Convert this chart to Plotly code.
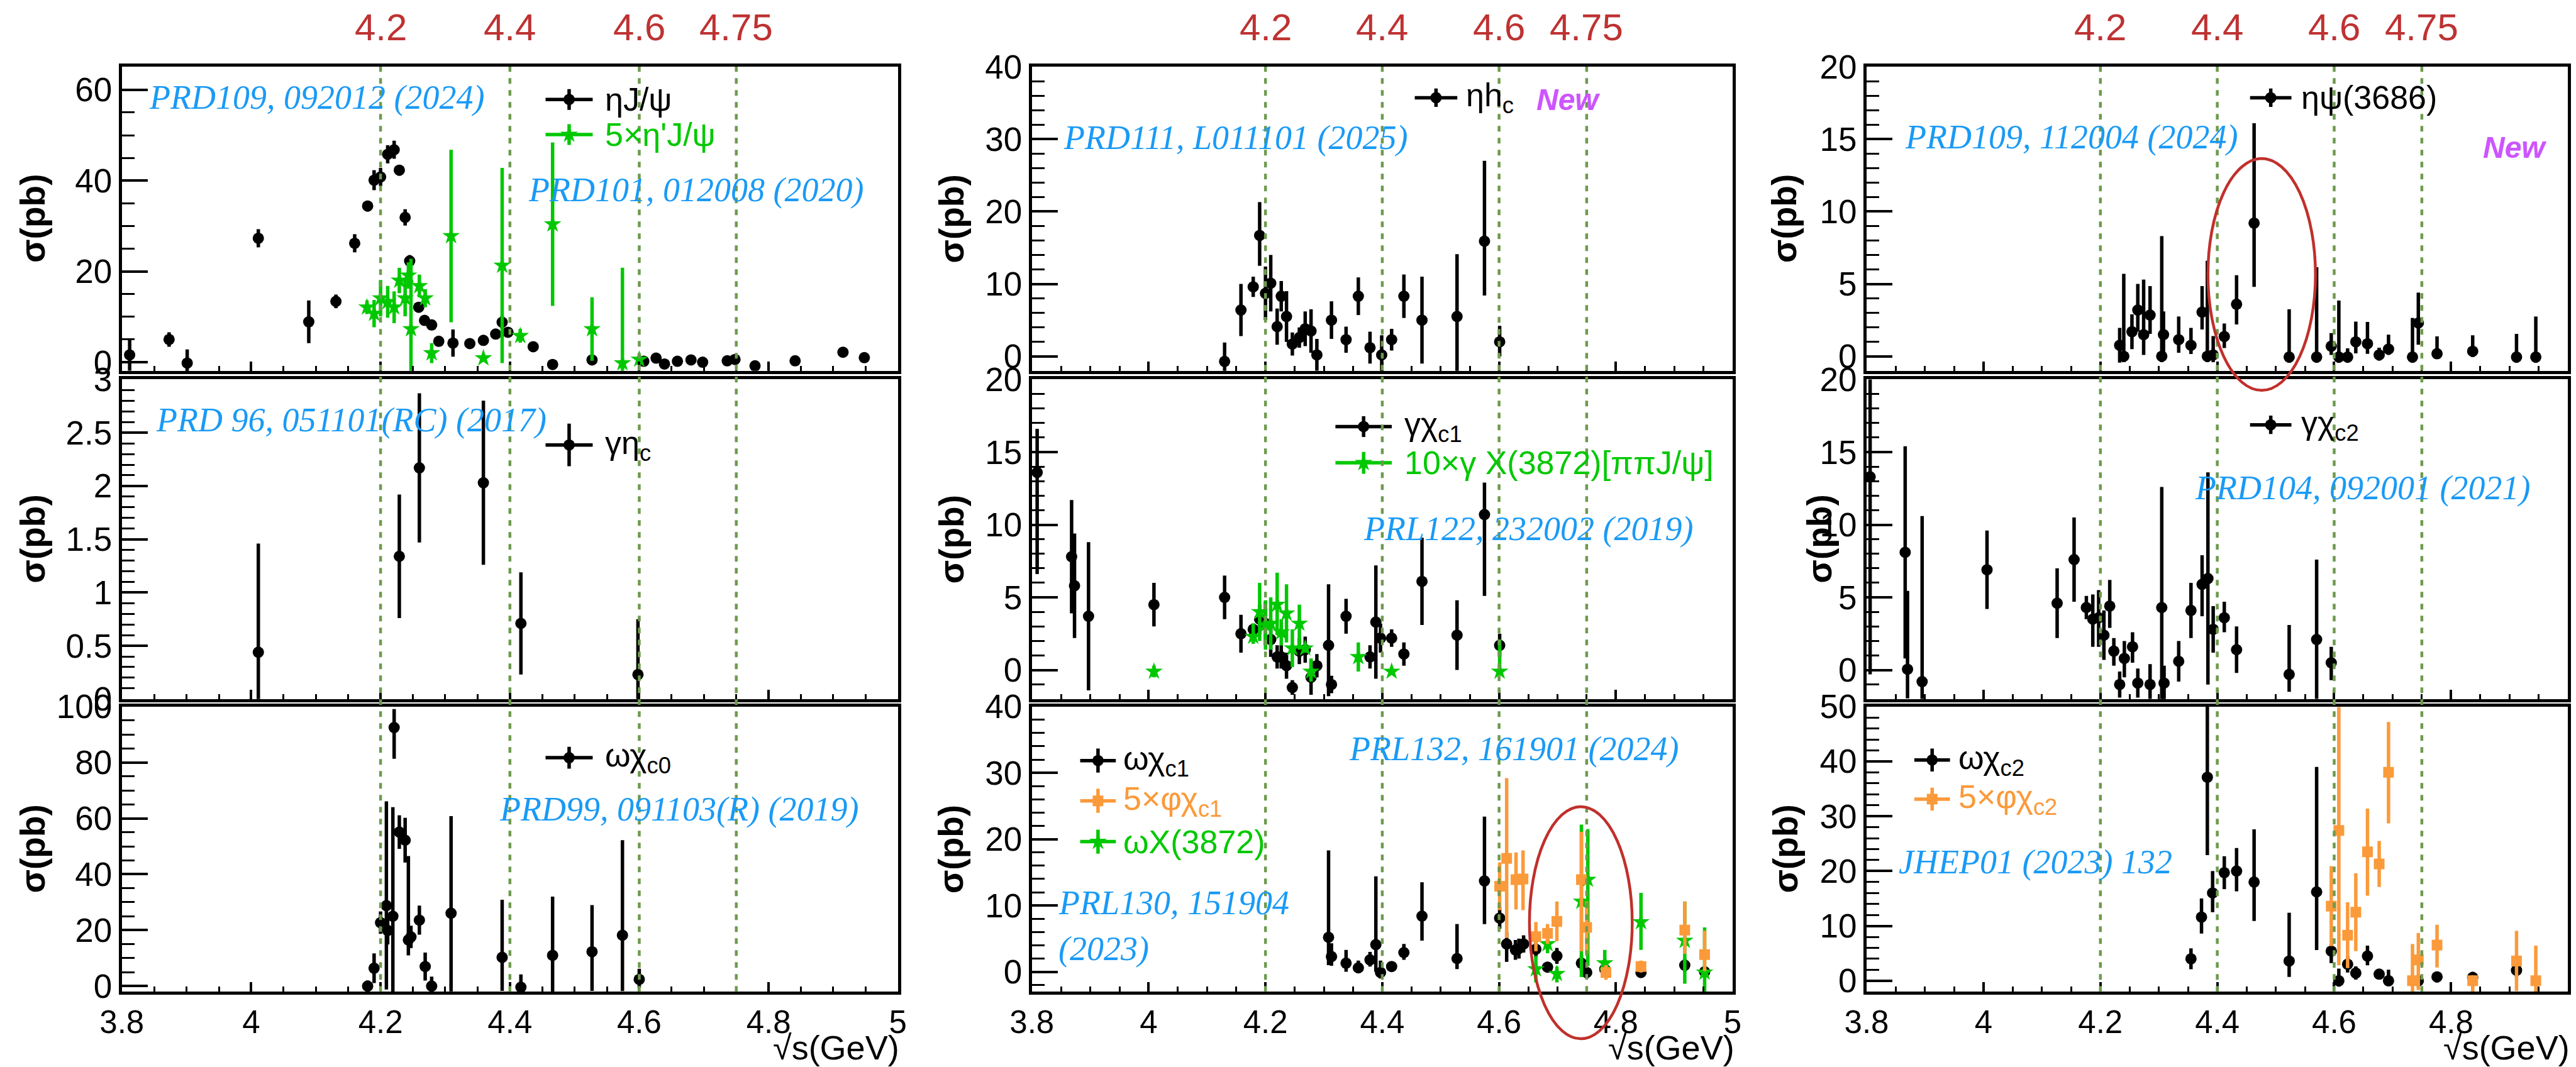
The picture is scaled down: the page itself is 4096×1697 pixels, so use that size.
import plotly.graph_objects as go

# ================================================================ DATA
# --- top row ---------------------------------------------------------
etaJpsi_x = [3.812, 3.873, 3.901, 4.011, 4.089, 4.131, 4.160, 4.180, 4.190, 4.200,
             4.211, 4.221, 4.229, 4.238, 4.245, 4.259, 4.268, 4.279, 4.290, 4.312,
             4.338, 4.359, 4.378, 4.388, 4.397, 4.436, 4.466, 4.527, 4.607, 4.626,
             4.639, 4.659, 4.680, 4.698, 4.736, 4.748, 4.779, 4.841, 4.915, 4.948]
etaJpsi_y = [1.6, 5.0, -0.2, 27.3, 8.9, 13.4, 26.2, 34.4, 40.1, 40.8,
             45.8, 46.8, 42.3, 31.9, 22.3, 12.1, 9.2, 8.2, 4.6, 4.2,
             4.1, 4.8, 6.2, 8.8, 6.6, 3.4, -0.5, 0.5, 0.2, 0.9,
             -0.4, 0.2, 0.5, 0.0, 0.3, 0.6, -0.8, 0.3, 2.2, 1.0]
etaJpsi_err = [3.5, 1.6, 3.0, 2.0, 4.7, 1.5, 2.0, 1.2, 2.2, 2.0,
               2.0, 2.0, 1.2, 1.8, 1.3, 1.0, 0.8, 1.0, 0.8, 3.0,
               0.9, 0.9, 0.8, 1.5, 0.8, 0.8, 0.8, 1.0, 0.8, 0.8,
               0.8, 0.8, 0.8, 0.8, 0.8, 0.8, 0.8, 0.8, 0.8, 0.8]

etapJpsi_x = [4.179, 4.190, 4.200, 4.211, 4.221, 4.229, 4.238, 4.243, 4.247, 4.260,
              4.269, 4.279, 4.309, 4.359, 4.388, 4.416, 4.466, 4.527, 4.574, 4.600]
etapJpsi_y = [12.1, 10.7, 14.1, 13.3, 12.1, 18.0, 14.1, 19.1, 7.3, 16.8,
              14.1, 2.0, 27.8, 0.9, 21.3, 5.8, 30.4, 7.3, -0.2, 0.6]
etapJpsi_ep = [1.5, 3.0, 4.0, 3.5, 3.5, 2.8, 4.0, 2.9, 15.5, 2.5,
               2.0, 2.2, 19.0, 0.8, 21.5, 1.5, 18.0, 7.0, 21.0, 1.2]
etapJpsi_em = [1.5, 3.0, 4.0, 3.5, 3.5, 2.8, 4.0, 2.9, 9.5, 2.5,
               2.0, 2.2, 19.0, 0.8, 21.5, 1.5, 18.0, 7.0, 2.0, 1.2]

etahc_x = [4.130, 4.158, 4.179, 4.190, 4.200, 4.209, 4.220, 4.227, 4.236, 4.246,
           4.258, 4.268, 4.278, 4.288, 4.313, 4.338, 4.359, 4.379, 4.399, 4.416,
           4.437, 4.468, 4.528, 4.575, 4.601]
etahc_y = [-0.7, 6.4, 9.6, 16.7, 8.7, 10.1, 4.1, 8.3, 5.5, 1.7,
           2.6, 3.8, 3.5, 0.2, 5.0, 2.3, 8.3, 1.2, 0.2, 2.3,
           8.3, 5.0, 5.5, 15.9, 2.0]
etahc_ep = [2.6, 3.6, 1.4, 4.6, 3.7, 3.9, 2.5, 2.1, 3.5, 1.6,
            1.4, 2.4, 3.0, 2.2, 2.6, 1.8, 2.6, 2.2, 2.7, 1.5,
            3.0, 6.0, 8.6, 11.1, 2.2]
etahc_em = [2.6, 3.6, 1.4, 4.2, 3.7, 3.9, 2.5, 2.1, 3.5, 1.6,
            1.4, 2.4, 3.0, 2.2, 2.6, 1.8, 2.6, 2.2, 2.7, 1.5,
            3.0, 6.0, 8.6, 7.5, 2.0]

etapsi_x = [4.233, 4.240, 4.254, 4.264, 4.274, 4.285, 4.305, 4.308, 4.334, 4.355,
            4.374, 4.383, 4.393, 4.412, 4.433, 4.463, 4.523, 4.570, 4.595, 4.608,
            4.623, 4.637, 4.657, 4.677, 4.693, 4.734, 4.744, 4.776, 4.837, 4.912,
            4.945]
etapsi_y = [0.76, 0.0, 1.7, 3.2, 1.5, 2.85, 0.0, 1.5, 1.15, 0.76,
            3.05, 0.0, 0.1, 1.37, 3.6, 9.2, -0.05, -0.05, 0.7, -0.05,
            -0.05, 1.0, 0.87, 0.1, 0.5, -0.05, 2.3, 0.18, 0.35, -0.05,
            -0.05]
etapsi_ep = [1.2, 5.7, 1.2, 1.8, 3.8, 2.0, 8.3, 1.6, 1.6, 1.2,
             1.8, 6.6, 1.3, 0.9, 2.0, 6.9, 3.3, 6.2, 0.9, 3.9,
             0.6, 1.4, 1.5, 0.5, 1.0, 2.7, 2.1, 1.2, 1.1, 1.6,
             2.8]
etapsi_em = [1.2, 0.4, 1.2, 1.5, 1.4, 1.3, 0.4, 1.4, 0.9, 0.6,
             1.2, 0.4, 0.5, 0.8, 1.4, 4.4, 0.4, 0.4, 0.6, 0.4,
             0.4, 0.8, 0.7, 0.4, 0.4, 0.4, 1.5, 0.3, 0.4, 0.4,
             0.4]

# --- middle row ------------------------------------------------------
getac_x = [4.011, 4.229, 4.260, 4.359, 4.417, 4.598]
getac_y = [0.44, 1.34, 2.17, 2.03, 0.71, 0.23]
getac_err = [1.02, 0.58, 0.70, 0.77, 0.48, 0.52]

gchic1_x = [3.809, 3.868, 3.873, 3.897, 4.009, 4.130, 4.158, 4.179, 4.190, 4.200,
            4.209, 4.220, 4.227, 4.236, 4.246, 4.258, 4.268, 4.278, 4.288, 4.308,
            4.313, 4.338, 4.379, 4.389, 4.397, 4.416, 4.437, 4.468, 4.528, 4.575,
            4.601]
gchic1_y = [13.6, 7.8, 5.8, 3.7, 4.5, 5.0, 2.5, 2.8, 3.5, 3.2,
            2.1, 0.9, 0.9, 0.3, -1.2, 1.3, 1.4, -0.5, 0.3, 1.7,
            -1.0, 3.7, 0.9, 3.3, 2.2, 2.2, 1.1, 6.1, 2.4, 10.7,
            1.7]
gchic1_ep = [3.0, 3.9, 3.6, 5.1, 1.5, 1.5, 1.3, 0.4, 1.0, 1.5,
             1.2, 0.8, 0.8, 0.9, 0.5, 0.9, 0.9, 1.2, 0.8, 4.2,
             0.6, 1.2, 0.8, 3.9, 1.0, 0.6, 0.8, 3.0, 2.4, 2.2,
             0.8]
gchic1_em = [7.0, 3.9, 3.6, 5.1, 1.5, 1.5, 1.3, 0.4, 1.0, 1.5,
             1.2, 0.8, 0.8, 0.9, 0.5, 0.9, 0.9, 1.2, 0.8, 3.5,
             0.6, 1.2, 0.8, 3.9, 1.0, 0.6, 0.8, 3.0, 2.4, 5.6,
             0.8]

gX3872_x = [4.009, 4.179, 4.190, 4.200, 4.209, 4.220, 4.227, 4.236, 4.246, 4.258,
            4.268, 4.278, 4.359, 4.416, 4.601]
gX3872_y = [-0.1, 2.3, 4.0, 3.1, 3.2, 4.5, 2.6, 3.9, 1.5, 3.2,
            1.5, -0.1, 0.9, -0.1, -0.1]
gX3872_ep = [0.4, 0.9, 2.0, 1.7, 1.8, 2.2, 0.9, 2.0, 1.3, 1.3,
             0.3, 0.9, 1.0, 0.3, 2.2]
gX3872_em = [0.4, 0.5, 2.0, 1.7, 1.8, 2.1, 0.9, 2.0, 1.3, 1.8,
             0.3, 0.7, 1.0, 0.2, 0.1]

gchic2_x = [3.806, 3.866, 3.870, 3.895, 4.006, 4.126, 4.155, 4.176, 4.187, 4.197,
            4.206, 4.216, 4.223, 4.233, 4.241, 4.255, 4.264, 4.285, 4.305, 4.309,
            4.334, 4.355, 4.374, 4.384, 4.393, 4.412, 4.433, 4.523, 4.570, 4.595]
gchic2_y = [13.3, 8.1, 0.05, -0.8, 6.9, 4.6, 7.6, 4.3, 3.5, 3.6,
            2.4, 4.4, 1.3, -1.0, 0.8, 1.6, -0.9, -1.0, 4.3, -0.9,
            0.6, 4.1, 5.9, 6.3, 2.8, 3.6, 1.4, -0.3, 2.1, 0.5]
gchic2_ep = [7.0, 7.3, 5.4, 11.4, 2.7, 2.4, 2.9, 0.8, 1.7, 1.9,
             1.7, 1.8, 0.9, 0.9, 1.2, 1.0, 1.0, 1.4, 8.3, 1.2,
             1.4, 1.9, 2.0, 7.3, 1.6, 1.1, 1.6, 3.4, 5.5, 1.1]
gchic2_em = [13.6, 7.3, 2.0, 1.2, 2.7, 2.4, 2.9, 0.8, 1.9, 2.0,
             1.7, 1.5, 1.0, 0.9, 1.3, 1.1, 1.0, 1.0, 8.3, 1.2,
             1.4, 1.9, 2.2, 7.3, 1.6, 1.0, 1.6, 1.2, 4.1, 1.2]

# --- bottom row ------------------------------------------------------
wchic0_x = [4.180, 4.190, 4.200, 4.209, 4.211, 4.219, 4.221, 4.229, 4.238, 4.243,
            4.247, 4.260, 4.269, 4.279, 4.309, 4.388, 4.417, 4.466, 4.527, 4.574,
            4.600]
wchic0_y = [0.0, 6.4, 22.7, 28.8, 19.9, 25.0, 92.5, 55.1, 52.2, 16.5,
            17.6, 23.6, 7.0, 0.0, 26.1, 10.3, -0.4, 11.0, 12.3, 18.2,
            2.4]
wchic0_ep = [2.0, 5.3, 4.0, 37.3, 5.0, 39.0, 6.6, 6.0, 8.0, 30.0,
             4.0, 5.2, 5.0, 3.4, 34.7, 20.6, 4.6, 21.0, 16.7, 34.0,
             3.8]
wchic0_em = [2.0, 5.3, 4.0, 30.0, 5.0, 27.0, 11.2, 6.0, 8.0, 5.5,
             4.0, 5.2, 5.0, 2.0, 28.0, 12.0, 2.0, 13.0, 14.0, 20.0,
             3.0]

wchic1_x = [4.308, 4.313, 4.338, 4.359, 4.379, 4.389, 4.397, 4.416, 4.437, 4.468,
            4.528, 4.575, 4.601, 4.613, 4.628, 4.634, 4.642, 4.663, 4.683, 4.699,
            4.741, 4.750, 4.781, 4.843, 4.918, 4.952]
wchic1_y = [5.2, 2.3, 1.3, 0.6, 1.8, 4.1, -0.1, 0.8, 2.9, 8.4,
            2.0, 13.7, 8.1, 4.2, 3.3, 3.5, 4.2, 3.4, 0.7, 2.4,
            1.3, -0.1, 0.4, -0.1, 1.0, 0.0]
wchic1_ep = [13.1, 2.0, 2.0, 1.1, 1.2, 10.3, 1.8, 0.7, 1.3, 5.1,
             5.2, 9.7, 1.7, 1.8, 1.5, 1.5, 1.3, 1.3, 0.8, 1.2,
             1.2, 0.9, 0.9, 0.8, 1.0, 0.8]
wchic1_em = [4.2, 1.4, 1.3, 0.8, 1.0, 4.1, 0.9, 0.7, 1.1, 3.7,
             1.6, 6.5, 1.6, 2.7, 1.5, 1.5, 1.3, 1.3, 0.8, 1.2,
             1.2, 0.9, 0.9, 0.8, 1.0, 0.8]

phichic1_x = [4.601, 4.613, 4.629, 4.641, 4.663, 4.683, 4.699, 4.741, 4.750, 4.783,
              4.843, 4.918, 4.952]
phichic1_y = [12.9, 17.1, 13.9, 14.0, 5.3, 5.8, 7.6, 13.9, 6.7, -0.1,
              0.8, 6.3, 2.6]
phichic1_ep = [3.6, 12.1, 4.1, 4.3, 2.2, 1.4, 3.0, 7.2, 3.9, 1.1,
               0.9, 4.3, 3.6]
phichic1_em = [3.6, 12.0, 4.5, 4.7, 2.2, 1.6, 3.0, 10.8, 4.0, 1.1,
               0.9, 3.6, 2.5]

wX3872_x = [4.663, 4.683, 4.699, 4.741, 4.752, 4.781, 4.843, 4.918, 4.952]
wX3872_y = [0.4, 4.2, -0.3, 10.6, 13.9, 1.3, 7.5, 4.7, -0.1]
wX3872_ep = [2.0, 1.1, 1.1, 11.6, 7.6, 2.0, 4.4, 5.9, 6.8]
wX3872_em = [2.0, 1.4, 1.3, 11.4, 13.0, 1.6, 4.2, 6.5, 3.0]

wchic2_x = [4.355, 4.373, 4.383, 4.392, 4.412, 4.433, 4.463, 4.523, 4.570, 4.595,
            4.608, 4.623, 4.637, 4.657, 4.677, 4.693, 4.744, 4.776, 4.837, 4.912]
wchic2_y = [4.0, 11.6, 37.1, 16.0, 19.7, 20.0, 18.0, 3.6, 16.2, 5.4,
            0.0, 3.0, 1.4, 4.5, 1.2, 0.0, 0.0, 0.7, 0.6, 1.9]
wchic2_ep = [1.9, 3.4, 13.0, 4.0, 3.0, 4.2, 9.6, 8.8, 22.8, 1.3,
             2.2, 1.5, 1.2, 1.9, 0.9, 2.0, 1.0, 1.0, 1.0, 1.2]
wchic2_em = [1.9, 3.0, 14.2, 3.5, 3.0, 3.7, 7.1, 2.9, 10.6, 2.2,
             1.1, 1.5, 1.2, 1.7, 0.9, 1.0, 1.0, 1.0, 1.0, 1.2]

phichic2_x = [4.595, 4.608, 4.623, 4.637, 4.657, 4.677, 4.693, 4.734, 4.744, 4.776,
              4.837, 4.912, 4.945]
phichic2_y = [13.6, 27.4, 8.3, 12.5, 23.5, 21.3, 38.0, 0.0, 3.8, 6.5,
              0.0, 3.6, 0.0]
phichic2_ep = [7.3, 22.5, 6.0, 7.1, 7.9, 4.2, 9.2, 6.7, 4.9, 3.7,
               1.0, 5.5, 6.4]
phichic2_em = [7.3, 24.6, 6.0, 7.1, 8.0, 4.2, 9.3, 2.0, 5.5, 4.1,
               2.0, 5.5, 2.0]

# reference energies (dashed lines / red labels)
marker_energies = [4.2, 4.4, 4.6, 4.75]
marker_labels = ["4.2", "4.4", "4.6", "4.75"]

# y-axis settings per panel: range, major step, minor step
y_ranges = {(0, 0): [-1.9, 65.1], (0, 1): [-2, 40], (0, 2): [-1, 20],
            (1, 0): [0, 3], (1, 1): [-2, 20], (1, 2): [-2, 20],
            (2, 0): [-2, 100], (2, 1): [-3, 40], (2, 2): [-2, 50]}
y_ticks = {(0, 0): (20, 5), (0, 1): (10, 2), (0, 2): (5, 1),
           (1, 0): (0.5, 0.1), (1, 1): (5, 1), (1, 2): (5, 1),
           (2, 0): (20, 5), (2, 1): (10, 2), (2, 2): (10, 2)}
x_range = [3.8, 5.0]

# ================================================================ GEOMETRY
W_REF, H_REF = 4481.0, 1856.0
COL_X = [(212, 1562), (1795, 3014), (3247, 4467)]
ROW_Y = [(116, 645), (660, 1216), (1229, 1725)]

BLACK = "black"
GREEN = "#00c800"
ORANGE = "#fb9a3a"
BLUE = "#1a9af5"
RED = "#be3232"
DASH = "#6e9a4e"
MAGENTA = "#cc55ff"

LW = 5
EB_T = 5.5
TICKFONT = 53


def px(X):
    return X / W_REF


def py(Y):
    return 1.0 - Y / H_REF


def axis_ids(r, c):
    n = r * 3 + c + 1
    if n == 1:
        return "x", "y", "xaxis", "yaxis"
    return f"x{n}", f"y{n}", f"xaxis{n}", f"yaxis{n}"


def data_to_ref(r, c, xd, yd):
    x0, x1 = COL_X[c]
    yt, yb = ROW_Y[r]
    yr = y_ranges[(r, c)]
    X = x0 + (xd - x_range[0]) / (x_range[1] - x_range[0]) * (x1 - x0)
    Y = yb - (yd - yr[0]) / (yr[1] - yr[0]) * (yb - yt)
    return X, Y


def ref_to_data(r, c, X, Y):
    x0, x1 = COL_X[c]
    yt, yb = ROW_Y[r]
    yr = y_ranges[(r, c)]
    xd = x_range[0] + (X - x0) / (x1 - x0) * (x_range[1] - x_range[0])
    yd = yr[0] + (yb - Y) / (yb - yt) * (yr[1] - yr[0])
    return xd, yd


def px_per_unit(r, c):
    x0, x1 = COL_X[c]
    yt, yb = ROW_Y[r]
    yr = y_ranges[(r, c)]
    return (x1 - x0) / (x_range[1] - x_range[0]), (yb - yt) / (yr[1] - yr[0])


fig = go.Figure()


def add_series(r, c, x, y, ep, em, color, symbol, size):
    xa, ya, _, _ = axis_ids(r, c)
    fig.add_trace(go.Scatter(
        x=x, y=y, mode="markers", xaxis=xa, yaxis=ya, showlegend=False,
        marker=dict(color=color, symbol=symbol, size=size, line=dict(width=0)),
        error_y=dict(type="data", symmetric=False, array=ep, arrayminus=em,
                     width=0, thickness=EB_T, color=color)))


CIRC, CS = "circle", 18
STAR, SS = "star", 21
SQ, QS = "square", 17

add_series(0, 0, etaJpsi_x, etaJpsi_y, etaJpsi_err, etaJpsi_err, BLACK, CIRC, CS)
add_series(0, 0, etapJpsi_x, etapJpsi_y, etapJpsi_ep, etapJpsi_em, GREEN, STAR, SS)
add_series(0, 1, etahc_x, etahc_y, etahc_ep, etahc_em, BLACK, CIRC, CS)
add_series(0, 2, etapsi_x, etapsi_y, etapsi_ep, etapsi_em, BLACK, CIRC, CS)
add_series(1, 0, getac_x, getac_y, getac_err, getac_err, BLACK, CIRC, CS)
add_series(1, 1, gchic1_x, gchic1_y, gchic1_ep, gchic1_em, BLACK, CIRC, CS)
add_series(1, 1, gX3872_x, gX3872_y, gX3872_ep, gX3872_em, GREEN, STAR, SS)
add_series(1, 2, gchic2_x, gchic2_y, gchic2_ep, gchic2_em, BLACK, CIRC, CS)
add_series(2, 0, wchic0_x, wchic0_y, wchic0_ep, wchic0_em, BLACK, CIRC, CS)
add_series(2, 1, wchic1_x, wchic1_y, wchic1_ep, wchic1_em, BLACK, CIRC, CS)
add_series(2, 1, wX3872_x, wX3872_y, wX3872_ep, wX3872_em, GREEN, STAR, SS)
add_series(2, 1, phichic1_x, phichic1_y, phichic1_ep, phichic1_em, ORANGE, SQ, QS)
add_series(2, 2, wchic2_x, wchic2_y, wchic2_ep, wchic2_em, BLACK, CIRC, CS)
add_series(2, 2, phichic2_x, phichic2_y, phichic2_ep, phichic2_em, ORANGE, SQ, QS)

annotations = []
shapes = []

# ---------------------------------------------------------------- legends
legend_entries = [
    # r, c, X, Y, half_h, half_v, color, symbol, size, text, textX
    (0, 0, 990, 173, 41, 18, BLACK, CIRC, CS, "ηJ/ψ", 1050),
    (0, 0, 990, 234, 41, 18, GREEN, STAR, SS, "5×η'J/ψ", 1050),
    (1, 0, 990, 774, 41, 37, BLACK, CIRC, CS, "γη<sub>c</sub>", 1050),
    (2, 0, 990, 1318, 41, 19, BLACK, CIRC, CS, "ωχ<sub>c0</sub>", 1050),
    (0, 1, 2498, 170, 37, 16, BLACK, CIRC, CS, "ηh<sub>c</sub>", 2548),
    (1, 1, 2372, 742, 49, 18, BLACK, CIRC, CS, "γχ<sub>c1</sub>", 2441),
    (1, 1, 2372, 805, 49, 19, GREEN, STAR, SS, "10×γ X(3872)[ππJ/ψ]", 2441),
    (2, 1, 1910, 1323, 31, 21, BLACK, CIRC, CS, "ωχ<sub>c1</sub>", 1952),
    (2, 1, 1910, 1393, 31, 21, ORANGE, SQ, QS, "5×φχ<sub>c1</sub>", 1952),
    (2, 1, 1910, 1464, 31, 21, GREEN, STAR, SS, "ωX(3872)", 1952),
    (0, 2, 3950, 170, 36, 16, BLACK, CIRC, CS, "ηψ(3686)", 4001),
    (1, 2, 3950, 739, 36, 16, BLACK, CIRC, CS, "γχ<sub>c2</sub>", 4001),
    (2, 2, 3361, 1322, 31, 20, BLACK, CIRC, CS, "ωχ<sub>c2</sub>", 3404),
    (2, 2, 3361, 1390, 31, 20, ORANGE, SQ, QS, "5×φχ<sub>c2</sub>", 3404),
]
for (r, c, X, Y, hh, hv, col, sym, sz, txt, tX) in legend_entries:
    xa, ya, _, _ = axis_ids(r, c)
    xd, yd = ref_to_data(r, c, X, Y)
    kx, ky = px_per_unit(r, c)
    fig.add_trace(go.Scatter(
        x=[xd], y=[yd], mode="markers", xaxis=xa, yaxis=ya, showlegend=False,
        marker=dict(color=col, symbol=sym, size=sz, line=dict(width=0)),
        error_x=dict(type="data", symmetric=True, array=[hh / kx], width=0,
                     thickness=EB_T, color=col),
        error_y=dict(type="data", symmetric=True, array=[hv / ky], width=0,
                     thickness=EB_T, color=col)))
    annotations.append(dict(x=px(tX), y=py(Y), xref="paper", yref="paper",
                            xanchor="left", yanchor="middle", showarrow=False,
                            text=txt, font=dict(size=52, color=col,
                                                family="Liberation Sans")))

# ---------------------------------------------------------------- citations
citations = [
    (257, 170, "PRD109, 092012 (2024)"),
    (917, 330, "PRD101, 012008 (2020)"),
    (269, 731, "PRD 96, 051101(RC) (2017)"),
    (866, 1408, "PRD99, 091103(R) (2019)"),
    (1848, 239, "PRD111, L011101 (2025)"),
    (2370, 920, "PRL122, 232002 (2019)"),
    (2344, 1303, "PRL132, 161901 (2024)"),
    (1839, 1570, "PRL130, 151904"),
    (1839, 1650, "(2023)"),
    (3311, 238, "PRD109, 112004 (2024)"),
    (3816, 849, "PRD104, 092001 (2021)"),
    (3301, 1500, "JHEP01 (2023) 132"),
]
for X, Y, txt in citations:
    annotations.append(dict(x=px(X), y=py(Y), xref="paper", yref="paper",
                            xanchor="left", yanchor="middle", showarrow=False,
                            text="<i>" + txt + "</i>",
                            font=dict(size=54, color=BLUE, family="Liberation Serif")))

# "New" tags
for X, Y in [(2728, 173), (4374, 256)]:
    annotations.append(dict(x=px(X), y=py(Y), xref="paper", yref="paper",
                            xanchor="center", yanchor="middle", showarrow=False,
                            text="<b><i>New</i></b>",
                            font=dict(size=48, color=MAGENTA, family="Liberation Sans")))

# y titles
ytitle_pos = {(0, 0): 57, (1, 0): 57, (2, 0): 57,
              (0, 1): 1655, (1, 1): 1655, (2, 1): 1655,
              (0, 2): 3104, (1, 2): 3165, (2, 2): 3106}
for (r, c), X in ytitle_pos.items():
    yt, yb = ROW_Y[r]
    annotations.append(dict(x=px(X), y=py((yt + yb) / 2), xref="paper", yref="paper",
                            xanchor="center", yanchor="middle", showarrow=False,
                            textangle=-90, text="<b>σ(pb)</b>",
                            font=dict(size=55, color="black", family="Liberation Sans")))

# x titles (sit on the bottom edge of the figure, right-aligned with each frame)
for c in range(3):
    annotations.append(dict(x=px(COL_X[c][1] + 4), y=0.0, xref="paper", yref="paper",
                            xanchor="right", yanchor="bottom", showarrow=False,
                            borderpad=0,
                            text="√s(GeV)",
                            font=dict(size=54, color="black", family="Liberation Sans")))

# red energy labels + dashed lines
for c in range(3):
    for e, lab in zip(marker_energies, marker_labels):
        X, _ = data_to_ref(0, c, e, 0)
        annotations.append(dict(x=px(X), y=py(48), xref="paper", yref="paper",
                                xanchor="center", yanchor="middle", showarrow=False,
                                text=lab, font=dict(size=60, color=RED,
                                                    family="Liberation Sans")))
        shapes.append(dict(type="line", xref="paper", yref="paper",
                           x0=px(X), x1=px(X), y0=py(ROW_Y[2][1]), y1=py(ROW_Y[0][0]),
                           line=dict(color=DASH, width=4.5, dash="9px,10px"),
                           layer="above"))

# red ellipses
for (r, c, xc, yc, rx, ry) in [(0, 2, 4.476, 5.65, 0.092, 8.0),
                               (2, 1, 4.740, 7.4, 0.088, 17.5)]:
    X0, Y0 = data_to_ref(r, c, xc - rx, yc - ry)
    X1, Y1 = data_to_ref(r, c, xc + rx, yc + ry)
    shapes.append(dict(type="circle", xref="paper", yref="paper",
                       x0=px(X0), x1=px(X1), y0=py(Y0), y1=py(Y1),
                       line=dict(color="#c0302b", width=4.5), layer="above"))

# ---------------------------------------------------------------- axes
layout = dict(width=4096, height=1697, margin=dict(l=0, r=0, t=0, b=0, pad=0),
              autosize=False,
              paper_bgcolor="white", plot_bgcolor="white", showlegend=False,
              font=dict(family="Liberation Sans", color="black"),
              annotations=annotations, shapes=shapes)

for r in range(3):
    for c in range(3):
        xa, ya, xk, yk = axis_ids(r, c)
        maj, mnr = y_ticks[(r, c)]
        layout[xk] = dict(
            domain=[px(COL_X[c][0]), px(COL_X[c][1])], range=x_range, anchor=ya,
            automargin=False,
            showgrid=False, zeroline=False, showline=True, mirror=True,
            linecolor="black", linewidth=LW, ticks="inside", ticklen=15,
            tickwidth=4, tickcolor="black", tick0=3.8, dtick=0.2,
            showticklabels=(r == 2), tickfont=dict(size=TICKFONT - 2, color="black"),
            minor=dict(ticks="inside", dtick=0.05, tick0=3.8, ticklen=8,
                       tickwidth=3, tickcolor="black", showgrid=False))
        layout[yk] = dict(
            domain=[py(ROW_Y[r][1]), py(ROW_Y[r][0])], range=y_ranges[(r, c)],
            anchor=xa, automargin=False,
            showgrid=False, zeroline=False, showline=True, mirror=True,
            linecolor="black", linewidth=LW, ticks="inside", ticklen=41,
            tickwidth=4, tickcolor="black", tick0=0, dtick=maj,
            tickfont=dict(size=TICKFONT, color="black"),
            minor=dict(ticks="inside", dtick=mnr, tick0=0, ticklen=20,
                       tickwidth=3, tickcolor="black", showgrid=False))

fig.update_layout(**layout)
fig.write_html("out.html", config={"displayModeBar": False},
               post_script="document.body.style.margin='0';document.body.style.overflow='hidden';")
